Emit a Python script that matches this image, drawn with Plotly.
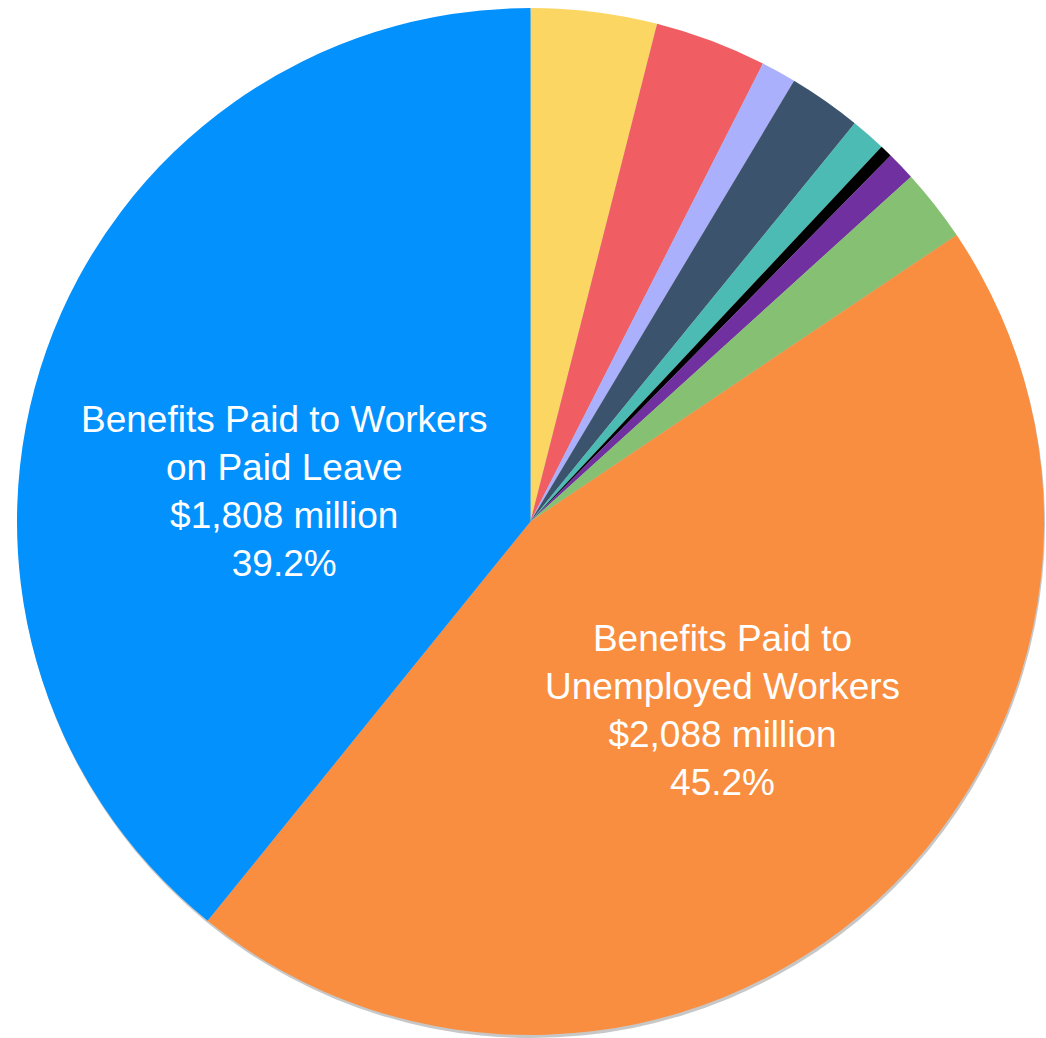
import plotly.graph_objects as go

categories = [
    "Administrative Costs",
    "Extended Benefits",
    "Interest Payments",
    "Employment Services",
    "Training Programs",
    "Refunds",
    "Other Programs",
    "Reserve Transfers",
    "Benefits Paid to<br>Unemployed Workers",
    "Benefits Paid to Workers<br>on Paid Leave",
]
values_million = [183, 162, 51, 106, 51, 18, 42, 106, 2088, 1808]
colors = [
    "#FCD663", "#F05E64", "#AAB0FB", "#3C536E", "#4CBBB4",
    "#000000", "#7030A0", "#86C073", "#F98E40", "#0391FD",
]
show_label = [False] * 8 + [True, True]

total = sum(values_million)
texts = [
    f"{c}<br>${v:,} million<br>{v / total * 100:.1f}%"
    for c, v in zip(categories, values_million)
]

W, H = 1046, 1038
ML, MR, MT, MB = 17, 0, 8, 0
pw, ph = W - ML - MR, H - MT - MB
D = 1027  # pie diameter in px

fig = go.Figure()
# soft drop shadow
fig.add_trace(go.Pie(
    values=[1], labels=["shadow"], sort=False,
    marker=dict(colors=["rgba(0,0,0,0.22)"], line=dict(width=0)),
    textinfo="none", hoverinfo="skip", showlegend=False,
    domain=dict(x=[1 / pw, (D + 1) / pw], y=[0, D / ph]),
))
fig.add_trace(go.Pie(
    labels=categories,
    values=values_million,
    text=texts,
    textinfo="none",
    hovertemplate="%{text}<extra></extra>",
    sort=False,
    direction="clockwise",
    rotation=0,
    marker=dict(colors=colors, line=dict(width=0)),
    showlegend=False,
    domain=dict(x=[0, D / pw], y=[3 / ph, 1]),
))

# label positions (pixel centres of the text blocks)
label_px = {8: (722.5, 710.5), 9: (284, 491)}
for i, (px, py) in label_px.items():
    if not show_label[i]:
        continue
    fig.add_annotation(
        x=(px - ML) / pw, y=(H - MB - py) / ph, xref="paper", yref="paper",
        text=texts[i], showarrow=False, xanchor="center", yanchor="middle",
        align="center",
        font=dict(family="Liberation Sans, Arial, sans-serif", size=37, color="white"),
    )

fig.update_layout(
    width=W,
    height=H,
    margin=dict(l=ML, r=MR, t=MT, b=MB),
    paper_bgcolor="white",
    plot_bgcolor="white",
)
fig.write_html("out.html")
